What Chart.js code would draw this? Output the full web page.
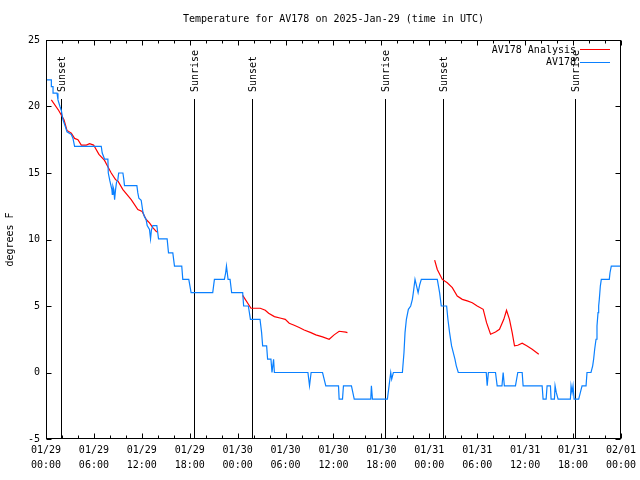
<!DOCTYPE html>
<html><head><meta charset="utf-8">
<script src="https://cdn.jsdelivr.net/npm/chart.js@4"></script>
<style>html,body{margin:0;padding:0;background:#fff}canvas{display:block}</style>
</head><body>
<canvas id="c" width="640" height="480"></canvas>
<script>
const chartTitle = "Temperature for AV178 on 2025-Jan-29 (time in UTC)";
const yAxisLabel = "degrees F";
const xTickHours = [0, 6, 12, 18, 24, 30, 36, 42, 48, 54, 60, 66, 72];
const xTickLabels = [
  ["01/29","00:00"],["01/29","06:00"],["01/29","12:00"],["01/29","18:00"],
  ["01/30","00:00"],["01/30","06:00"],["01/30","12:00"],["01/30","18:00"],
  ["01/31","00:00"],["01/31","06:00"],["01/31","12:00"],["01/31","18:00"],
  ["02/01","00:00"]
];
const yTicks = [-5, 0, 5, 10, 15, 20, 25];

const obsLabel = "AV178";
const obsHours = [0,0.67,0.67,0.88,0.88,1.38,1.5,1.75,1.92,2.13,2.42,2.63,3.17,3.38,3.58,6.92,7.04,7.33,7.63,7.75,7.8,8.0,8.25,8.3,8.38,8.5,8.59,8.71,8.83,9.0,9.1,9.63,9.75,9.83,11.38,11.5,11.63,11.92,12.13,12.34,12.54,12.67,12.96,13.09,13.2,13.38,13.88,14.09,15.17,15.34,15.88,16.09,17.0,17.13,17.88,18.17,20.88,21.09,22.34,22.5,22.6,22.7,22.8,23.05,23.25,24.63,24.75,25.34,25.6,26.8,27.0,27.13,27.63,27.75,28.17,28.3,28.5,28.6,32.8,33.0,33.2,34.63,35.04,36.63,36.71,37.13,37.25,38.25,38.6,40.67,40.75,40.88,42.75,42.96,43.17,43.29,43.5,44.63,44.83,44.96,45.13,45.38,45.67,45.88,46.0,46.21,46.33,46.6,46.8,47.0,49.0,49.15,49.29,49.5,50.17,50.33,50.54,50.79,51.21,51.38,51.63,55.13,55.25,55.4,56.29,56.5,57.1,57.25,57.4,58.79,59.08,59.63,59.75,62.13,62.25,62.63,62.75,63.17,63.25,63.67,63.75,63.9,64.13,65.67,65.75,65.88,66.0,66.13,66.71,66.92,67.13,67.63,67.75,68.25,68.46,68.58,68.71,68.88,69.0,69.13,69.21,69.29,69.42,69.54,70.54,70.63,70.79,72];
const obsTemps = [22,22,21.5,21.5,21,21,20.5,20,19.7,19,18.5,18.1,17.9,17.6,17,17,16.5,16.05,16.05,16.05,15,14.4,13.75,13.4,14.0,13.75,13.0,13.75,14.3,14.5,15,15,14.5,14.05,14.05,13.5,13.1,12.95,12.1,11.7,11.5,11.05,10.75,10.05,10.7,11.05,11.05,10.05,10.05,9,9,8,8,7,7,6,6,7,7,7.5,8,7.5,7,7,6,6,5,5,4,4,3,2,2,1,1,0,1,0,0,-1,0,0,-1,-1,-2,-2,-1,-1,-2,-2,-1,-2,-2,-1,0,-0.5,0,0,1.5,3,4,4.75,5,5.5,6,7,7,6,6.6,7,7,6.5,6,5,5,4,3,2,1,0.5,0,0,-1,0,0,-1,-1,0,-1,-1,0,0,-1,-1,-2,-2,-1,-1,-2,-2,-1,-1.5,-2,-2,-1,-1.5,-1,-2,-2,-1.5,-1,-1,0,0,0.5,1,1.75,2.5,3.5,4.5,5,5.5,6.5,7,7,7.5,8,8];

const anaLabel = "AV178 Analysis";
const anaHours = [0.67,1.59,2.25,2.63,3.17,3.58,4.0,4.42,5.05,5.46,5.96,6.63,7.33,7.63,8.17,8.71,9.0,9.63,10.67,11.5,12.04,12.54,12.96,13.38,13.88,
  19,
  24.63,25.67,26.83,27.46,27.88,28.6,29.42,29.96,30.46,31.08,31.71,32.33,33.17,33.79,34.63,35.46,36.08,36.71,37.54,37.75,
  43,
  48.67,49.0,49.63,50.25,50.88,51.5,52.13,52.75,53.38,54.0,54.75,55.17,55.67,56.29,56.79,57.33,57.67,58.04,58.38,58.67,59.08,59.63,60.25,60.88,61.71];
const anaTemps = [20.5,19.7,19.0,18.2,18.0,17.6,17.5,17.1,17.1,17.2,17.1,16.4,15.95,15.6,15.0,14.5,14.4,13.75,13.0,12.25,12.1,11.5,11.25,10.9,10.55,
  null,
  5.8,4.83,4.83,4.68,4.45,4.2,4.08,4.0,3.7,3.55,3.38,3.2,3.0,2.83,2.68,2.5,2.83,3.1,3.03,3.0,
  null,
  8.45,7.75,7.0,6.75,6.38,5.75,5.5,5.38,5.25,5.0,4.75,3.75,2.88,3.05,3.25,4.0,4.68,4.0,3.0,2.0,2.05,2.2,2.0,1.75,1.38];

const eventNames = ["Sunset","Sunrise","Sunset","Sunrise","Sunset","Sunrise"];
const eventHours = [1.875, 18.5, 25.75, 42.4, 49.75, 66.25];

const obsColor = "#0a80ff";
const anaColor = "#ff0000";
const FONT = "10px 'DejaVu Sans Mono'";

Chart.defaults.font.family = "'DejaVu Sans Mono'";
Chart.defaults.font.size = 10;
Chart.defaults.color = "#000";

const decor = {
  id: 'decor',
  beforeDatasetsDraw(chart) {
    const {ctx, chartArea: a, scales: {x}} = chart;
    ctx.save();
    ctx.strokeStyle = '#000'; ctx.fillStyle = '#000'; ctx.lineWidth = 1;
    ctx.font = FONT;
    eventHours.forEach((h, i) => {
      const px = Math.round(x.getPixelForValue(h)) + 0.5;
      ctx.beginPath(); ctx.moveTo(px, 99); ctx.lineTo(px, a.bottom); ctx.stroke();
      ctx.save();
      ctx.translate(px + 1, 92);
      ctx.rotate(-Math.PI / 2);
      ctx.textAlign = 'left'; ctx.textBaseline = 'middle';
      ctx.fillText(eventNames[i], 0, 0);
      ctx.restore();
    });
    ctx.restore();
  },
  afterDraw(chart) {
    const {ctx, chartArea: a, scales: {x, y}} = chart;
    ctx.save();
    ctx.strokeStyle = '#000'; ctx.fillStyle = '#000'; ctx.lineWidth = 1;
    const L = Math.round(a.left) + 0.5, R = Math.round(a.right) - 0.5;
    const T = Math.round(a.top) + 0.5, B = Math.round(a.bottom) - 0.5;
    ctx.strokeRect(L, T, R - L, B - T);
    ctx.beginPath();
    for (let h = 0; h <= 72; h += 2) {
      const px = Math.round(x.getPixelForValue(h)) + 0.5;
      const len = (h % 6 === 0) ? 5 : 3;
      ctx.moveTo(px, B); ctx.lineTo(px, B - len);
      ctx.moveTo(px, T); ctx.lineTo(px, T + len);
    }
    yTicks.forEach(v => {
      const py = Math.round(y.getPixelForValue(v)) + 0.5;
      ctx.moveTo(L, py); ctx.lineTo(L + 5, py);
      ctx.moveTo(R, py); ctx.lineTo(R - 5, py);
    });
    ctx.stroke();
    ctx.font = FONT;
    ctx.textAlign = 'center'; ctx.textBaseline = 'middle';
    ctx.fillText(chartTitle, (a.left + a.right) / 2, 19);
    ctx.save();
    ctx.translate(10, (a.top + a.bottom) / 2);
    ctx.rotate(-Math.PI / 2);
    ctx.fillText(yAxisLabel, 0, 0);
    ctx.restore();
    const rows = [[anaLabel, anaColor, 50], [obsLabel, obsColor, 62.5]];
    ctx.textAlign = 'right';
    rows.forEach(([t, c, yy]) => {
      ctx.fillStyle = '#000';
      ctx.fillText(t, 576, yy);
      ctx.strokeStyle = c;
      ctx.beginPath(); ctx.moveTo(580, Math.round(yy) - 0.5); ctx.lineTo(610, Math.round(yy) - 0.5); ctx.stroke();
    });
    ctx.restore();
  }
};

new Chart(document.getElementById('c'), {
  type: 'line',
  data: {
    datasets: [
      { label: obsLabel, data: obsHours.map((h, i) => ({x: h, y: obsTemps[i]})),
        borderColor: obsColor, borderWidth: 1.2, pointRadius: 0, tension: 0, fill: false },
      { label: anaLabel, data: anaHours.map((h, i) => ({x: h, y: anaTemps[i]})),
        borderColor: anaColor, borderWidth: 1.2, pointRadius: 0, tension: 0, fill: false, spanGaps: false }
    ]
  },
  options: {
    responsive: false, animation: false, devicePixelRatio: 1,
    layout: { padding: { top: 40, right: 18, left: 0, bottom: 0 } },
    plugins: { legend: { display: false }, title: { display: false }, tooltip: { enabled: false } },
    scales: {
      x: {
        type: 'linear', min: 0, max: 72,
        grid: { display: false, drawTicks: false }, border: { display: false },
        afterBuildTicks: s => { s.ticks = xTickHours.map(v => ({value: v})); },
        afterFit: s => { s.height = 41; },
        ticks: { autoSkip: false, maxRotation: 0, minRotation: 0, padding: 4,
          font: { size: 10, lineHeight: 1.5 },
          callback: v => { const i = xTickHours.indexOf(v); return i >= 0 ? xTickLabels[i] : ''; } }
      },
      y: {
        min: -5, max: 25,
        grid: { display: false, drawTicks: false }, border: { display: false },
        afterBuildTicks: s => { s.ticks = yTicks.map(v => ({value: v})); },
        afterFit: s => { s.width = 46; },
        ticks: { padding: 6, font: { size: 10 } }
      }
    }
  },
  plugins: [decor]
});
</script>
</body></html>
